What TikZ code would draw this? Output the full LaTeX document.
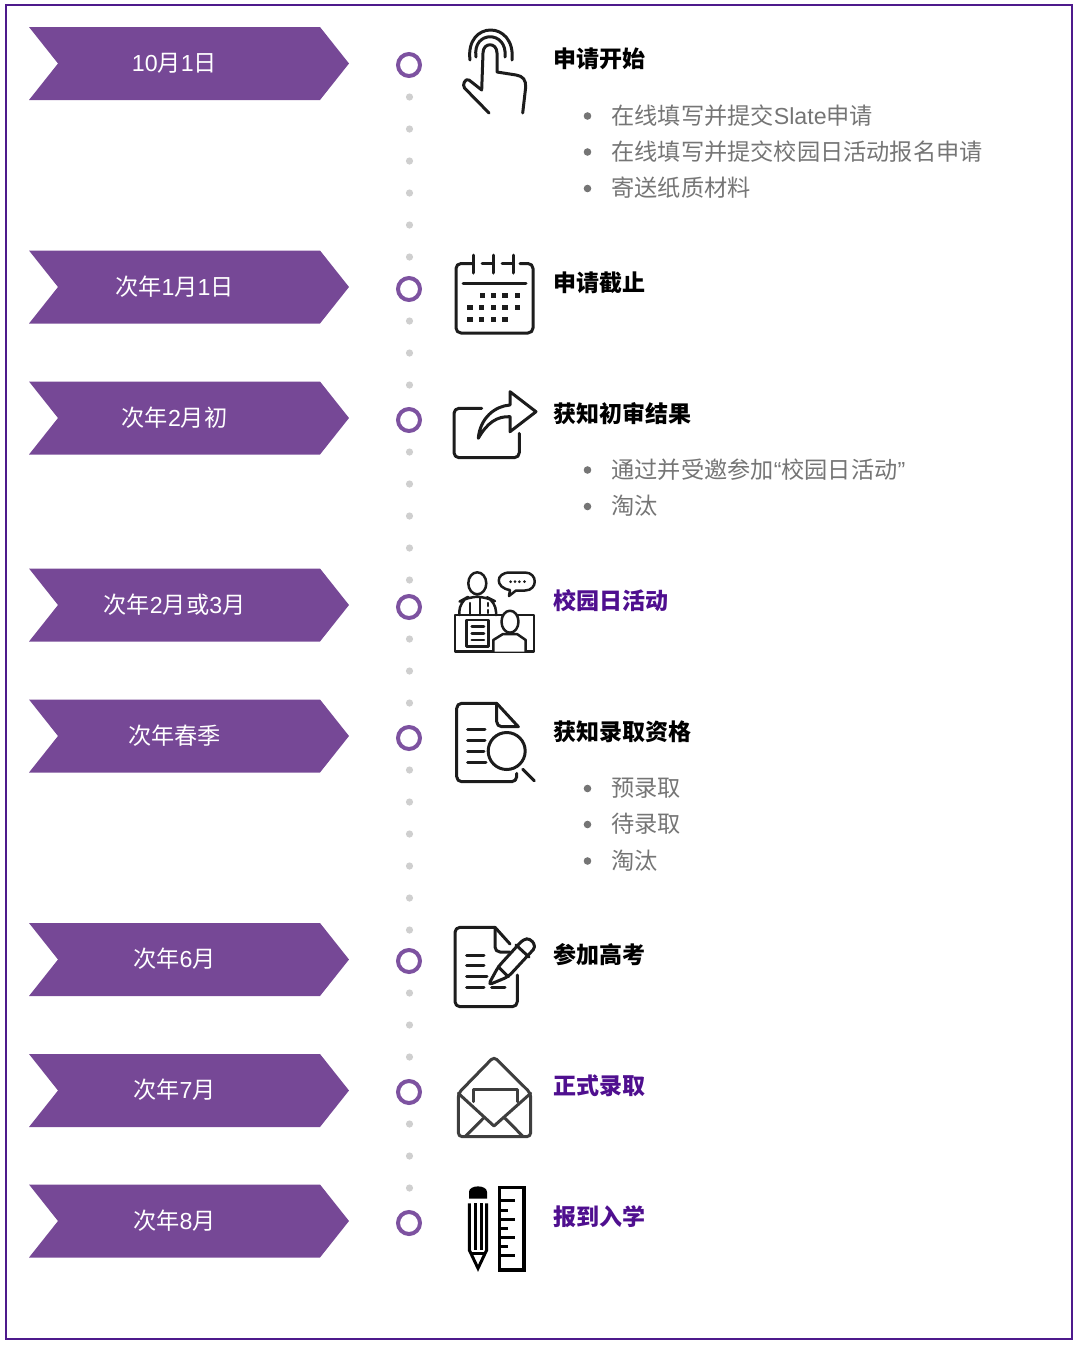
\documentclass[tikz,border=0pt]{standalone}
\usepackage{fontspec}
\setmainfont{Noto Sans CJK SC}
\newfontfamily\lat{Liberation Sans}
\definecolor{barpurple}{HTML}{764896}
\definecolor{ringpurple}{HTML}{7D52A0}
\definecolor{framepurple}{HTML}{4E1A8C}
\definecolor{linkpurple}{HTML}{4F0F8F}
\definecolor{dotgrey}{HTML}{CFCFCF}
\definecolor{bodygrey}{HTML}{757575}
\definecolor{iconink}{HTML}{1C1C1C}
\tikzset{
    datelabel/.style={text=white, font=\fontsize{11.6}{14}\selectfont},
    ring/.style={circle, draw=ringpurple, line width=2pt, minimum size=11pt, inner sep=0pt},
    spot/.style={circle, fill=dotgrey, minimum size=3.6pt, inner sep=0pt},
    heading/.style={anchor=west, inner sep=0pt, text height=9pt, text depth=2pt, font=\fontsize{11.5}{14}\selectfont\bfseries},
    headlink/.style={heading, text=linkpurple},
    item/.style={anchor=west, inner sep=0pt, text height=9pt, text depth=2pt, text=bodygrey, font=\fontsize{11.6}{14}\selectfont},
    itemspot/.style={circle, fill=bodygrey, minimum size=3.8pt, inner sep=0pt},
    icon/.style={draw=iconink, line width=1.5pt, line cap=round, line join=round},
    thinicon/.style={icon, line width=1.25pt},
}
\begin{document}
\begin{tikzpicture}[x=0.5pt, y=-0.5pt]
        \useasboundingbox (0,0) rectangle (1080,1345);
        \draw[framepurple, line width=1pt] (6,4.5) rectangle (1072,1338.5);

        % Datumspfeile
        \foreach \y/\n/\txt in {63.5/a/{{\lat 10}月{\lat 1}日},287/b/{次年{\lat 1}月{\lat 1}日},418/c/{次年{\lat 2}月初},605/d/{次年{\lat 2}月或{\lat 3}月},736/e/次年春季,959.5/f/{次年{\lat 6}月},1090.5/g/{次年{\lat 7}月},1221/h/{次年{\lat 8}月}} {
            \fill[barpurple] (29,\y-36.5) -- (320,\y-36.5) -- (349,\y) -- (320,\y+36.5) -- (29,\y+36.5) -- (58,\y) -- cycle;
            \node[datelabel] at (174.5,\y-0.5) (date\n) {\txt};
        }

        % Punkte
        \foreach \y in {97,129,161,193,225,257,321,353,385,452,484,516,548,580,639,671,703,770,802,834,866,898,930,993,1025,1057,1124,1156,1188}
            \node[spot] at (409.5,\y) {};

        % Ringe
        \foreach \y/\n in {65/a,289/b,420/c,607/d,738/e,961/f,1092/g,1223/h}
            \node[ring] at (409,\y) (ring\n) {};

        % Titel
        \node[heading] at (553.5,60.5) (heada) {申请开始};
        \node[heading] at (553.5,284.5) (headb) {申请截止};
        \node[heading] at (553.5,415.5) (headc) {获知初审结果};
        \node[headlink] at (553.5,602) (headd) {校园日活动};
        \node[heading] at (553.5,733) (heade) {获知录取资格};
        \node[heading] at (553.5,956.5) (headf) {参加高考};
        \node[headlink] at (553.5,1087.5) (headg) {正式录取};
        \node[headlink] at (553.5,1218.5) (headh) {报到入学};

        % Listen
        \foreach \y/\n/\txt in {117/a/{在线填写并提交{\lat Slate}申请},153/b/在线填写并提交校园日活动报名申请,189.5/c/寄送纸质材料,471/d/{通过并受邀参加{\lat “}校园日活动{\lat ”}},507.5/e/淘汰,789.5/f/预录取,825.5/g/待录取,862/h/淘汰} {
            \node[itemspot] at (587.5,\y-1) (bullet\n) {};
            \node[item] at (611,\y) (item\n) {\txt};
        }

        % Hand
        \draw[icon] (470,60) .. controls (465,20) and (516,20) .. (512,60);
        \draw[icon] (476,57) .. controls (472,30) and (508,30) .. (505,57);
        \draw[icon] (489,113) -- (464.5,88) .. controls (462,85) and (465,78) .. (469,80) -- (481.7,90) -- (483,53) .. controls (483,42) and (497,42) .. (497,53) -- (497,72) -- (516,75) .. controls (523,76) and (526,80) .. (525.7,87) -- (522.7,113);

        % Kalender
        \draw[icon, rounded corners=2.5pt] (472,263.5) -- (456,263.5) -- (456,333) -- (533,333) -- (533,263.5) -- (520,263.5);
        \foreach \x in {473.3,493.3,513.3}
            \draw[icon] (\x,255) -- (\x,273);
        \draw[icon] (482,263.5) -- (493,263.5) (502,263.5) -- (513,263.5) (463,283) -- (526,283);
        \foreach \x/\y in {482.7/295.7,493.3/295.7,505/295.7,517.3/295.7,470/307.3,481.7/307.3,493.3/307.3,505/307.3,517.3/307.3,470/319.3,481.7/319.3,493.3/319.3,505/319.3}
            \fill[iconink] (\x-2.6,\y-2.6) rectangle (\x+2.6,\y+2.6);

        % Teilen
        \draw[icon, rounded corners=2.5pt] (481.7,408.3) -- (454,408.3) -- (454,457.7) -- (519.3,457.7) -- (519.3,433.3);
        \draw[icon] (478.3,438.3) .. controls (480,418) and (495,406) .. (510,405) -- (510,391.7) -- (536,411.7) -- (510,431.7) -- (510,416.7) .. controls (497,416) and (487,423) .. (478.3,438.3) -- cycle;

        % Gespraech
        \draw[thinicon] (477.3,583.3) ellipse [x radius=9, y radius=11];
        \draw[thinicon, rounded corners=5pt] (459.3,615) -- (459.3,601.7) -- (468.3,596.7) -- (486,596.7) -- (496,601.7) -- (496,615);
        \draw[thinicon] (470,603) -- (470,615) (480,598) -- (480,615);
        \draw[thinicon] (488,603) -- (488,606) (488,610) -- (488,613);
        \draw[thinicon] (509,596) -- (510,590) .. controls (495,588) and (495,572.5) .. (510,572.5) -- (525,572.5) .. controls (538,572.5) and (538,590.5) .. (525,590.5) -- (516,590.5) -- cycle;
        \foreach \x in {510.7,515,519.3,524.5}
            \fill[iconink] (\x,581.7) circle [radius=1.5];
        \draw[thinicon] (455,615) rectangle (534,651.7);
        \draw[thinicon] (466.7,620) rectangle (488.3,646.7);
        \draw[thinicon] (471.7,626.7) -- (484,626.7) (471.7,633.3) -- (484,633.3) (471.7,640) -- (484,640);
        \draw[thinicon, fill=white] (493.3,651.7) -- (493.3,640) -- (503,634) -- (517,634) -- (525.7,640) -- (525.7,651.7);
        \draw[thinicon, fill=white] (510,621.7) ellipse [x radius=8.5, y radius=11];

        % Dokument mit Lupe
        \draw[icon, rounded corners=2.5pt] (496.7,703.3) -- (456.7,703.3) -- (456.7,781.7) -- (516.7,781.7) -- (516.7,773.3);
        \draw[icon, rounded corners=2.5pt] (496.7,703.3) -- (496.7,726.7) -- (518.3,726.7);
        \draw[icon] (496.7,703.3) -- (518.3,726.7);
        \draw[icon] (467.7,729.3) -- (485,729.3) (467.7,740.7) -- (485,740.7) (467.7,751.7) -- (484,751.7) (467.7,762.3) -- (486,762.3);
        \draw[icon] (506.7,751) circle [radius=18.5];
        \draw[icon] (522.7,769.3) -- (534.3,780.7);

        % Dokument mit Stift
        \draw[icon, rounded corners=2.5pt] (495,927.3) -- (455,927.3) -- (455,1006.7) -- (517.3,1006.7) -- (517.3,975);
        \draw[icon, rounded corners=2.5pt] (495,927.3) -- (495,952) -- (510,952);
        \draw[icon] (495,927.3) -- (510,944);
        \draw[icon] (466.7,955) -- (484,955) (466.7,965.7) -- (484,965.7) (466.7,976.7) -- (487,976.7) (466.7,987.3) -- (484,987.3) (491.7,987.3) -- (505,987.3);
        \draw[icon, rounded corners=2pt] (488.3,985) -- (498.3,966.7) -- (523.3,939.3) -- (530,938.3) -- (536,946.7) -- (508.3,976.7) -- cycle;
        \draw[icon] (498.3,966.7) -- (508.3,976.7) (516,945) -- (529,957);

        % Umschlag
        \draw[icon, draw=iconink!85, rounded corners=2pt] (458.3,1093.3) -- (494,1056.7) -- (530.7,1093.3) -- (530.7,1136.7) -- (458.3,1136.7) -- cycle;
        \draw[icon, draw=iconink!85] (458.3,1093.3) -- (494,1126) -- (530.7,1093.3);
        \draw[icon, draw=iconink!85] (473.3,1101.7) -- (473.3,1089.3) -- (517.3,1089.3) -- (517.3,1101.7);
        \draw[icon, draw=iconink!85] (465,1136.7) -- (483.3,1118.3) (523.3,1136.7) -- (505,1118.3);

        % Stift und Lineal
        \fill[black] (469,1198.5) -- (469,1192) .. controls (469,1184.5) and (487,1184.5) .. (487,1192) -- (487,1198.5) -- cycle;
        \draw[icon, black, line cap=butt, line join=miter] (469.3,1203.3) -- (469.3,1250) -- (478,1268.3) -- (486.7,1250) -- (486.7,1203.3);
        \draw[icon, black, line cap=butt] (475.5,1203.3) -- (475.5,1250) (481,1203.3) -- (481,1250) (472,1253) -- (484,1253);
        \draw[icon, black, line cap=butt, line join=miter, line width=1.6pt] (499.3,1187.3) rectangle (524,1270);
        \foreach \y/\x in {1200.7/515,1210/508.3,1219/515,1228.3/508.3,1237.3/515,1246.7/508.3,1255.7/515}
            \draw[icon, black, line cap=butt] (499.3,\y) -- (\x,\y);

    \end{tikzpicture}
\end{document}
